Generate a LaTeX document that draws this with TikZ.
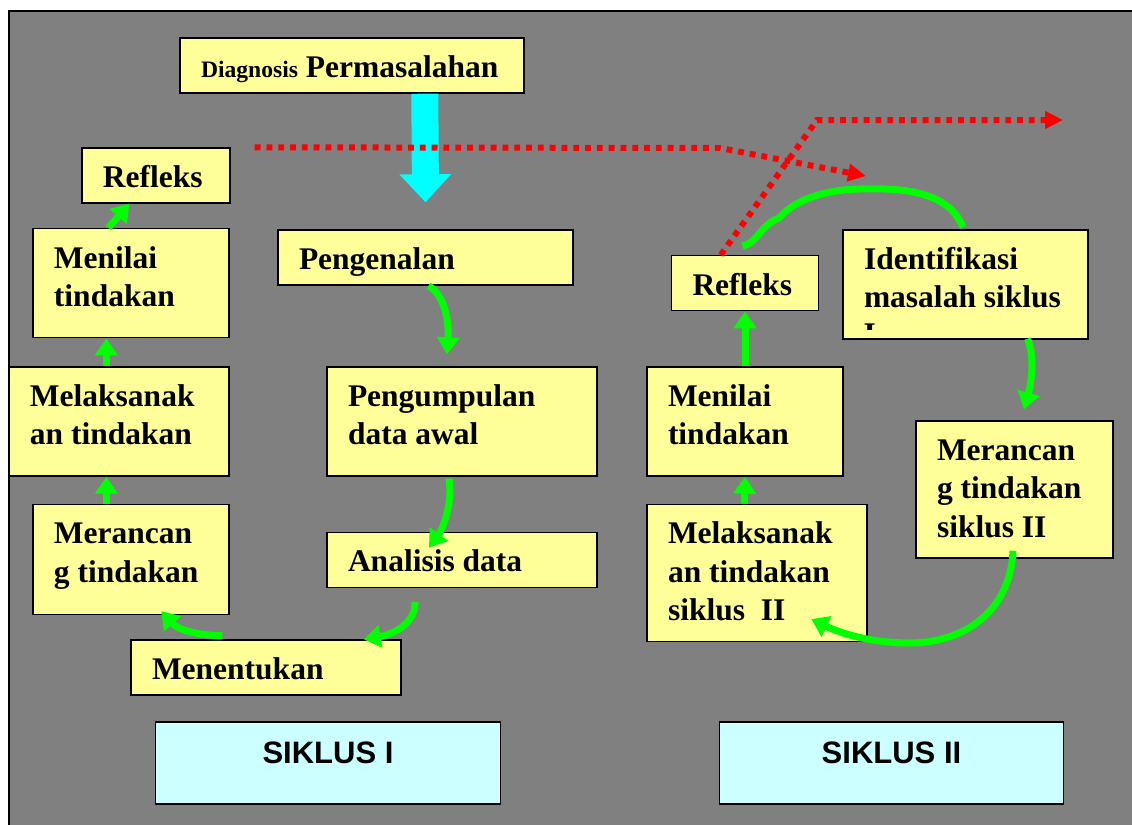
\documentclass[tikz,border=0pt]{standalone}
\usepackage{fontspec}
\setmainfont{Liberation Serif}
\newfontfamily\arialfont{Liberation Sans}
\usetikzlibrary{positioning,arrows.meta,calc}
\definecolor{boxyel}{HTML}{FFFF99}
\definecolor{sikcyan}{HTML}{CCFFFF}
\definecolor{bggray}{HTML}{808080}
\definecolor{hijau}{HTML}{00FF00}
\definecolor{merah}{HTML}{FF0000}
\definecolor{biru}{HTML}{00FFFF}

\begin{document}
\begin{tikzpicture}[x=0.5pt, y=-0.5pt,
    box/.style={rectangle, draw, fill=boxyel, line width=0.7pt, inner xsep=10.5pt, inner ysep=0pt,
        align=flush left, text height=19.75pt, font=\fontsize{15.75pt}{19.2pt}\selectfont\bfseries},
    siklus/.style={rectangle, draw, fill=sikcyan, line width=0.7pt, minimum width=172.25pt, minimum height=41pt,
        text height=11pt, text depth=11pt, font=\arialfont\fontsize{15.5pt}{18pt}\selectfont\bfseries},
    garis/.style={draw=hijau, line width=3.5pt, -{Triangle[length=8.5pt,width=11pt]}},
    putus/.style={draw=merah, line width=3pt, dash pattern=on 2.9pt off 3pt, -{Triangle[length=9pt,width=8.5pt]}},
    node distance=13.5pt]

\useasboundingbox (0,0) rectangle (1132,825);
\fill[white] (0,0) rectangle (1132,825);
\draw[line width=1pt, fill=bggray] (8.5,11) rectangle (1150,850);

\node[box, text width=151pt, text depth=7.75pt] (diag) at (352,65.5) {{\fontsize{11.8pt}{14pt}\selectfont Diagnosis} Permasalahan};
\node[box, text width=53pt, text depth=7.75pt] (reflA) at (156,175.5) {Refleks};
\node[box, text width=89pt, text depth=34.75pt] (pelA) at (119,421.5) {Melaksanak\\an tindakan};
\node[box, text width=77pt, text depth=34.75pt, above left=14pt and 0pt of pelA.north east] (menA) {Menilai\\tindakan};
\node[box, text width=77pt, text depth=35.25pt, below left=13.5pt and 0pt of pelA.south east] (rancA) {Merancan\\g tindakan};
\node[box, text width=114pt, text depth=7.75pt] (tentu) at (266,667.5) {Menentukan};
\node[box, text width=126.5pt, text depth=7.75pt] (kenal) at (425.5,257.5) {Pengenalan};
\node[box, text width=114pt, text depth=34.75pt] (kumpul) at (462,421.5) {Pengumpulan\\data awal};
\node[box, text width=114pt, text depth=7.75pt, below=27.5pt of kumpul] (analisis) {Analisis data};

\node[box, text width=77pt, text depth=34.75pt] (menB) at (745,421.5) {Menilai\\tindakan};
\node[box, text width=52.5pt, text depth=7.75pt, above=27.5pt of menB] (reflB) {Refleks};
\node[box, text width=89pt, text depth=48.75pt, below right=13.5pt and 0pt of menB.south west] (pelB) {Melaksanak\\an tindakan\\siklus~~II};
\node[box, text width=101.5pt, text depth=34.75pt] (ident) at (965.5,284.5) {Identifikasi\\masalah siklus};
\node[box, text width=77.5pt, text depth=48.75pt] (rancB) at (1014.5,489.5) {Merancan\\g tindakan\\siklus II};

\begin{scope}
  \clip (ident.north west) rectangle ($(ident.south east)+(0,-10)$);
  \node[font=\fontsize{15.75pt}{19.2pt}\selectfont\bfseries, anchor=base west, inner sep=0pt] (identI) at ($(ident.north west)+(21,115)$) {I};
\end{scope}

\node[siklus] (sik1) at (328,763) {SIKLUS I};
\node[siklus] (sik2) at (891.5,763) {SIKLUS II};

\draw[biru, line width=13.5pt, -{Triangle[length=14pt,width=25pt]}] ($(diag.south west)+(245.5,0)$) -- ($(kenal.north)+(0,-27)$);

\coordinate (ujungA) at (866,176);
\coordinate (ujungB) at (1063,120);
\draw[putus] ($(reflA.north east)+(24,0)$) -- (720,148) -- (ujungA);
\draw[putus] ($(reflB.north west)+(50,0)$) -- (817,120) -- (ujungB);

\draw[garis] ($(menA.north west)+(76,0)$) -- ($(reflA.south west)+(48,0)$);
\draw[garis] ($(pelA.north west)+(98,0)$) -- ($(menA.south west)+(74,0)$);
\draw[garis] ($(rancA.north west)+(74,0)$) -- ($(pelA.south west)+(98,0)$);
\draw[garis] (menB.north) -- (reflB.south);
\draw[garis] ($(pelB.north west)+(98,0)$) -- (menB.south);

\draw[garis] ($(kenal.south)+(3,0)$) .. controls (446,296) and (449,325) .. ($(kumpul.north)+(-15,-12)$);
\draw[garis] ($(kumpul.south)+(-13,2)$) .. controls (453,505) and (442,530) .. ($(analisis.north)+(-33,16)$);
\draw[garis] ($(analisis.south)+(-47,14)$) .. controls (416,622) and (395,634) .. ($(tentu.north east)+(-38,0)$);
\draw[garis] ($(tentu.north west)+(92,-4)$) .. controls (200,636) and (178,630) .. ($(rancA.south west)+(129,-4)$);
\draw[garis] ($(ident.south)+(62,-1)$) .. controls (1036,360) and (1030,388) .. ($(rancB.north)+(9.5,-11)$);
\draw[garis] ($(rancB.south)+(-1.5,-8)$) .. controls (1010,615) and (960,643) .. (910,643) .. controls (870,643) and (840,633) .. ($(pelB.south west)+(165,-23)$);
\draw[garis, -] ($(ident.north)+(-2.5,-2)$) .. controls (948,190) and (900,188) .. (860,189) .. controls (815,190) and (790,205) .. (779,218) .. controls (760,225) and (757,244) .. ($(reflB.north)+(-2.5,-9)$);

\end{tikzpicture}
\end{document}
